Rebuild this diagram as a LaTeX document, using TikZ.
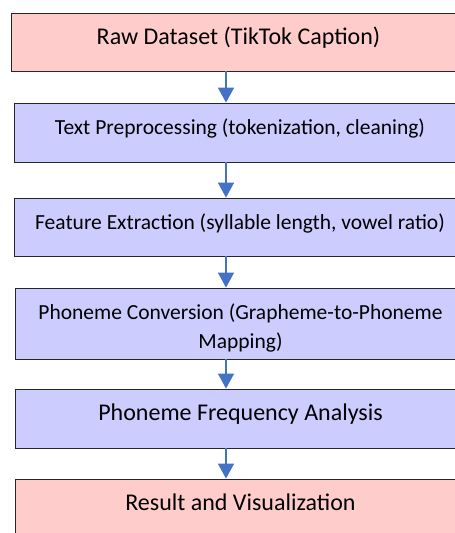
\documentclass[tikz,border=0pt]{standalone}
\usepackage{fontspec}
\setmainfont{Carlito}
\usepackage{xcolor}
\usepackage{tikz}
\usetikzlibrary{arrows.meta}

\definecolor{rawpink}{HTML}{FFCCCC}
\definecolor{steplilac}{HTML}{CCCCFF}
\definecolor{arrowblue}{HTML}{4472C4}

\begin{document}
\begin{tikzpicture}[x=1pt, y=-1pt,
    stagebox/.style={draw=black!85, line width=0.8pt, minimum width=451pt,
      inner sep=3pt, text height=0.75em, text depth=0.35em},
    flow/.style={draw=arrowblue, line width=1.2pt,
      -{Triangle[width=16pt, length=15pt, fill=arrowblue]}}
  ]
    \clip (0,0) rectangle (455,533);

    % Raw data
    \node[stagebox, fill=rawpink, minimum width=455pt, minimum height=58pt,
      font=\fontsize{24}{28}\selectfont] (raw) at (238.5,42) {Raw Dataset (TikTok Caption)};

    % Preprocessing
    \node[stagebox, fill=steplilac, minimum height=59pt,
      font=\fontsize{21.5}{26}\selectfont] (prep) at (240,132.5) {Text Preprocessing (tokenization, cleaning)};

    % Features
    \node[stagebox, fill=steplilac, minimum height=58pt,
      font=\fontsize{21.5}{26}\selectfont] (feat) at (240,227) {Feature Extraction (syllable length, vowel ratio)};

    % G2P conversion, two lines
    \node[stagebox, fill=steplilac, minimum height=71pt, align=center,
      text height=50pt, text depth=0pt,
      font=\fontsize{21.5}{29}\selectfont] (gtp) at (240.5,323.5) {Phoneme Conversion (Grapheme-to-Phoneme\\Mapping)};

    % Frequency analysis
    \node[stagebox, fill=steplilac, minimum height=59pt,
      font=\fontsize{24}{28}\selectfont] (freq) at (240.5,418.5) {Phoneme Frequency Analysis};

    % Output
    \node[stagebox, fill=rawpink, minimum height=58pt,
      font=\fontsize{24}{28}\selectfont] (res) at (240.5,508) {Result and Visualization};

    % Arrows down the pipeline
    \coordinate (axis) at (226,0);
    \draw[flow] (raw.south -| axis) -- (prep.north -| axis);
    \draw[flow] (prep.south -| axis) -- (feat.north -| axis);
    \draw[flow] (feat.south -| axis) -- (gtp.north -| axis);
    \draw[flow] (gtp.south -| axis) -- (freq.north -| axis);
    \draw[flow] (freq.south -| axis) -- (res.north -| axis);
  \end{tikzpicture}
\end{document}
